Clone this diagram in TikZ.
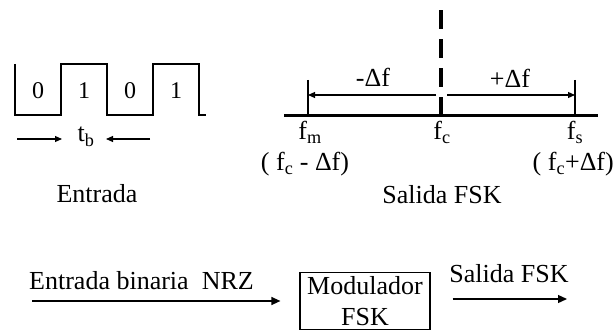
\documentclass[tikz,border=0pt]{standalone}
\usepackage{fontspec}
\setmainfont{Liberation Serif}
\usetikzlibrary{positioning,arrows.meta}

\begin{document}
\begin{tikzpicture}[x=1pt, y=-1pt,
  font=\fontsize{26}{31}\selectfont,
  wave/.style={line width=1.3pt, line join=miter},
  lbl/.style={inner sep=0pt, anchor=base},
  tick/.style={line width=1.1pt},
  dimarrow/.style={-{Triangle[length=7pt,width=6pt]}, line width=1.1pt},
  flow/.style={-{Triangle[length=9pt,width=8pt]}, line width=1.3pt},
  axis/.style={line width=3pt},
  carrier/.style={line width=3.3pt, dash pattern=on 19pt off 10pt},
  modbox/.style={draw, line width=1.2pt, minimum width=130pt, minimum height=57pt,
                 inner sep=0pt, align=center},
]
\useasboundingbox (0,0) rectangle (615,331);
% entrada NRZ
\def\hi{64} \def\lo{115}
\draw[wave] (15,\hi) -- (15,\lo) -- (61,\lo) -- (61,\hi) -- (107,\hi) -- (107,\lo)
  -- (153,\lo) -- (153,\hi) -- (199,\hi) -- (199,\lo) -- (206,\lo);
\foreach \bitval/\x [count=\i] in {0/38,1/84,0/130,1/176}
  \node[lbl, font=\fontsize{24}{28}\selectfont] (bit\i) at (\x,99) {\bitval};
\node[lbl] (tb) at (86,142) {t\textsubscript{b}};
\coordinate (tbL) at (17,139); \coordinate (tbLtip) at (62,139);
\coordinate (tbR) at (150,139); \coordinate (tbRtip) at (106,139);
\draw[dimarrow] (tbL) -- (tbLtip);
\draw[dimarrow] (tbR) -- (tbRtip);
\node[lbl] (entrada) at (97,202) {Entrada};
% salida FSK
\def\fm{308} \def\fc{441} \def\fs{575} \def\ax{116}
\coordinate (axL) at (284,\ax); \coordinate (axR) at (598,\ax);
\draw[axis] (axL) -- (axR);
\coordinate (fmT) at (\fm,80); \coordinate (fmB) at (\fm,\ax);
\coordinate (fsT) at (\fs,80); \coordinate (fsB) at (\fs,\ax);
\draw[tick] (fmT) -- (fmB);
\draw[tick] (fsT) -- (fsB);
\coordinate (fcB) at (\fc,\ax); \coordinate (fcT) at (\fc,7);
\draw[carrier] (fcB) -- (fcT);
\coordinate (gapL) at (436,95); \coordinate (gapR) at (447,95);
\draw[dimarrow] (gapL) -- (gapL -| fmT);
\draw[dimarrow] (gapR) -- (gapR -| fsT);
\node[lbl] (dminus) at (373,87) {-Δf};
\node[lbl] (dplus) at (510,88) {+Δf};
\node[lbl] (fmlbl) at (310,140) {f\textsubscript{m}};
\node[lbl] (fclbl) at (442,140) {f\textsubscript{c}};
\node[lbl] (fslbl) at (575,140) {f\textsubscript{s}};
\node[lbl] (fmval) at (305,171) {( f\textsubscript{c} - Δf)};
\node[lbl, anchor=base east] (fsval) at (614,171) {( f\textsubscript{c}+Δf)};
\node[lbl] (salida) at (442,203) {Salida FSK};
% modulador
\node[modbox] (mod) at (365,301) {Modulador\\FSK};
\node[lbl, anchor=base west] (nrzlbl) at (29,289) {Entrada binaria\ \ NRZ};
\coordinate (nrzA) at (32,301);
\draw[flow, shorten >=19pt] (nrzA) -- (nrzA -| mod.west);
\coordinate (outB) at (567,299);
\draw[flow, shorten <=22pt] (outB -| mod.east) -- (outB);
\node[lbl] (outlbl) at (509,282) {Salida FSK};
\end{tikzpicture}
\end{document}
